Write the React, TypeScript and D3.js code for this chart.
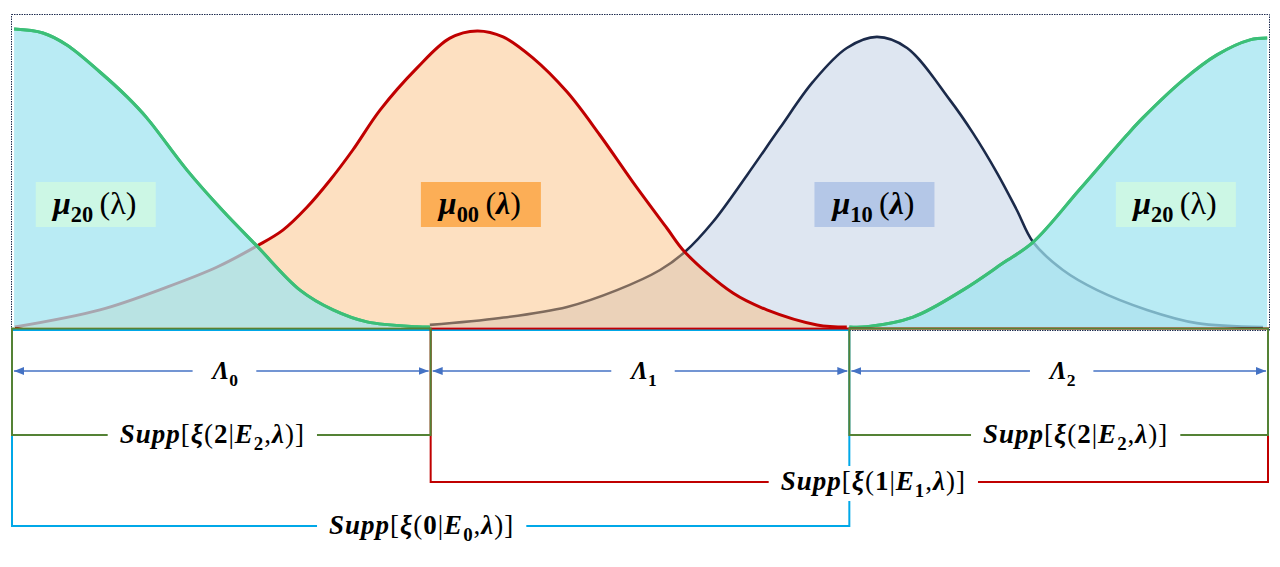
import React, { useEffect, useRef } from 'react';
import * as d3 from 'd3';

// membership curves as [lambda, density]
const mu20Left: [number, number][] = [
  [0.005, 0.993], [0.074, 0.98], [0.131, 0.94], [0.21, 0.85], [0.275, 0.767],
  [0.322, 0.697], [0.418, 0.523], [0.502, 0.39], [0.585, 0.27], [0.688, 0.123],
  [0.767, 0.057], [0.848, 0.017], [0.967, 0.001], [0.998, 0],
];
const mu00: [number, number][] = [
  [0.007, 0], [0.21, 0.057], [0.37, 0.133], [0.49, 0.2], [0.585, 0.27],
  [0.647, 0.323], [0.705, 0.4], [0.76, 0.49], [0.814, 0.59], [0.879, 0.723],
  [0.967, 0.863], [1.046, 0.963], [1.111, 0.987], [1.173, 0.967], [1.244, 0.897],
  [1.326, 0.783], [1.404, 0.64], [1.483, 0.483], [1.564, 0.33], [1.607, 0.25],
  [1.722, 0.113], [1.803, 0.057], [1.923, 0.007], [1.994, 0],
];
const mu10: [number, number][] = [
  [0.998, 0.007], [1.166, 0.03], [1.326, 0.067], [1.445, 0.123], [1.548, 0.19],
  [1.607, 0.25], [1.674, 0.35], [1.756, 0.507], [1.834, 0.663], [1.913, 0.817],
  [1.994, 0.93], [2.066, 0.967], [2.138, 0.93], [2.24, 0.757], [2.295, 0.647],
  [2.353, 0.513], [2.4, 0.39], [2.439, 0.283], [2.51, 0.19], [2.592, 0.123],
  [2.711, 0.057], [2.83, 0.013], [2.988, 0],
];
const mu20Right: [number, number][] = [
  [2.0, 0], [2.042, 0.001], [2.152, 0.033], [2.271, 0.123], [2.367, 0.213],
  [2.439, 0.283], [2.551, 0.46], [2.663, 0.64], [2.701, 0.697], [2.797, 0.823],
  [2.878, 0.907], [2.957, 0.957], [2.998, 0.963],
];

// region boundaries on the lambda axis
const bounds = [0, 1, 2, 3];
const regionIdx = ['0', '1', '2'];

// curve labels: name subscript, lambda position, bold lambda?
const curveLabels = [
  { sub: '20', at: 0.2, boldArg: false },
  { sub: '00', at: 1.12, boldArg: true },
  { sub: '10', at: 2.06, boldArg: true },
  { sub: '20', at: 2.78, boldArg: false },
];
const labelDensity = 0.41;

// supports: class k, from boundary, to boundary
const supports = [
  { k: '0', from: 0, to: 2 },
  { k: '1', from: 1, to: 3 },
  { k: '2', from: 0, to: 1 },
  { k: '2', from: 2, to: 3 },
];

const W = 1280;
const H = 567;
const FONT = '"Liberation Serif", "DejaVu Serif", serif';

const App = () => {
  const ref = useRef<SVGSVGElement>(null);

  useEffect(() => {
    document.body.style.margin = '0';
    const svg = d3.select(ref.current);
    svg.selectAll('*').remove();

    const x = d3.scaleLinear().domain([0, 3]).range([12, 1268]);
    const y = d3.scaleLinear().domain([0, 1]).range([327, 27]);

    const defs = svg.append('defs');
    defs.append('marker')
      .attr('id', 'arr')
      .attr('viewBox', '0 0 10 8')
      .attr('refX', 10).attr('refY', 4)
      .attr('markerWidth', 10).attr('markerHeight', 8)
      .attr('markerUnits', 'userSpaceOnUse')
      .attr('orient', 'auto-start-reverse')
      .append('path').attr('d', 'M0,0L10,4L0,8z').attr('fill', '#4472c4');

    const curve = d3.curveCatmullRom.alpha(0.5);
    const area = d3.area<[number, number]>()
      .x((d) => x(d[0])).y0(y(0)).y1((d) => Math.min(y(0), y(d[1])))
      .curve(curve);
    const line = d3.line<[number, number]>()
      .x((d) => x(d[0])).y((d) => y(d[1]))
      .curve(curve);

    const curves = [
      { data: mu10, fill: '#dee6f1', op: 1, stroke: '#1b2a4a', w: 2.6 },
      { data: mu00, fill: '#fabb75', op: 0.45, stroke: '#c00000', w: 3 },
      { data: mu20Left, fill: '#9fe4f0', op: 0.73, stroke: '#3cbf78', w: 3 },
      { data: mu20Right, fill: '#9fe4f0', op: 0.73, stroke: '#3cbf78', w: 3 },
    ];
    const plot = svg.append('g');
    curves.forEach((c) => {
      plot.append('path').attr('d', area(c.data)).attr('fill', c.fill).attr('fill-opacity', c.op);
      plot.append('path').attr('d', line(c.data)).attr('fill', 'none')
        .attr('stroke', c.stroke).attr('stroke-width', c.w);
    });
    // the green lines are drawn over both fills
    [mu20Left, mu20Right].forEach((d) => {
      plot.append('path').attr('d', line(d)).attr('fill', 'none')
        .attr('stroke', '#3cbf78').attr('stroke-width', 3);
    });

    // math-ish text from segments: b = bold, i = italic, s = subscript
    const mathText = (g: any, segs: [string, string][], cx: number, cy: number, size: number, spacing = 0) => {
      const t = g.append('text')
        .attr('x', cx).attr('y', cy)
        .attr('text-anchor', 'middle')
        .attr('font-family', FONT)
        .attr('font-size', size)
        .attr('letter-spacing', spacing)
        .attr('fill', '#000');
      let down = false;
      segs.forEach(([s, kind]) => {
        const ts = t.append('tspan').text(s);
        if (kind.includes('b')) ts.attr('font-weight', 'bold');
        if (kind.includes('i')) ts.attr('font-style', 'italic');
        if (kind.includes('s')) {
          ts.attr('font-size', size * 0.7);
          if (!down) { ts.attr('dy', size * 0.26); down = true; }
        } else if (down) {
          ts.attr('dy', -size * 0.26);
          down = false;
        }
      });
      return t;
    };

    // curve label boxes
    curveLabels.forEach((l) => {
      const g = svg.append('g');
      const cx = x(l.at);
      const cy = y(labelDensity);
      const boxFill = l.sub === '20' ? '#ccf7e5' : l.sub === '00' ? '#fcae56' : '#b4c7e7';
      g.append('rect')
        .attr('x', cx - 60).attr('y', cy - 22)
        .attr('width', 120).attr('height', 45)
        .attr('fill', boxFill);
      mathText(g, [
        ['μ', 'bi'], [l.sub, 'bs'], ['\u2009(', 'r'],
        ['λ', l.boldArg ? 'bi' : 'r'], [')', 'r'],
      ], cx - 1, cy + 10, 32);
    });

    // dotted frame around the plot
    svg.append('rect')
      .attr('x', x(0) - 0.5).attr('y', 14.5)
      .attr('width', x(3) - x(0) + 2).attr('height', 316)
      .attr('fill', 'none').attr('stroke', '#1f2d50')
      .attr('stroke-width', 1).attr('stroke-dasharray', '1.5,1');

    // support brackets
    const level: Record<string, number> = { '0': 526, '1': 482, '2': 435 };
    const colour: Record<string, string> = { '0': '#00a8e8', '1': '#c00000', '2': '#548235' };
    const topY: Record<string, number> = { '0': 330, '1': 328.5, '2': 328.5 };
    const br = svg.append('g');
    supports.forEach((s) => {
      const x0 = x(bounds[s.from]);
      const x1 = x(bounds[s.to]);
      const ly = level[s.k];
      br.append('path')
        .attr('d', `M${x0},${topY[s.k]}H${x1}V${ly}H${x0}Z`)
        .attr('fill', 'none').attr('stroke', colour[s.k]).attr('stroke-width', 2);
    });

    const labelled = (segs: [string, string][], cx: number, cy: number, size: number, pad: number, spacing = 0) => {
      const g = svg.append('g');
      const t = mathText(g, segs, cx, cy, size, spacing);
      const bb = (t.node() as SVGTextElement).getBBox();
      g.insert('rect', 'text')
        .attr('x', bb.x - pad).attr('y', bb.y)
        .attr('width', bb.width + pad * 2).attr('height', bb.height)
        .attr('fill', '#fff');
    };

    const suppShift = (s: { k: string; from: number }) =>
      s.k === '1' ? 24 : s.k === '0' ? -9 : s.from === 2 ? 17 : -9;
    supports.forEach((s) => {
      const cx = (x(bounds[s.from]) + x(bounds[s.to])) / 2 + suppShift(s);
      labelled([
        ['Supp', 'bi'], ['[', 'r'], ['ξ', 'bi'], ['(', 'r'], [s.k, 'b'], ['|', 'r'],
        ['E', 'bi'], [s.k, 'bs'], [',', 'r'], ['λ', 'bi'], [')]', 'r'],
      ], cx, level[s.k] + 8, 27, 12, 1);
    });

    // region arrows
    regionIdx.forEach((idx, i) => {
      const x0 = x(bounds[i]) + 2;
      const x1 = x(bounds[i + 1]) - 2;
      const ay = 371;
      svg.append('line')
        .attr('x1', x0).attr('x2', x1).attr('y1', ay).attr('y2', ay)
        .attr('stroke', '#4472c4').attr('stroke-width', 1.3)
        .attr('marker-start', 'url(#arr)').attr('marker-end', 'url(#arr)');
      labelled([['Λ', 'bi'], [idx, 'bs']], (x0 + x1) / 2 + 4, ay + 8, 25, 18);
    });
  }, []);

  return <svg ref={ref} width={W} height={H} style={{ display: 'block', background: '#fff' }} />;
};

export default App;
